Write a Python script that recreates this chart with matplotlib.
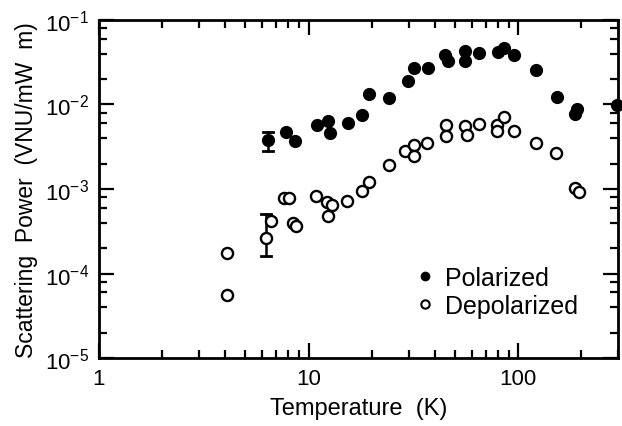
import matplotlib
matplotlib.use('Agg')
import matplotlib.pyplot as plt
import numpy as np
from matplotlib.ticker import LogLocator, NullFormatter, FixedLocator
from matplotlib.lines import Line2D

plt.rcParams['font.family'] = ['Liberation Sans', 'DejaVu Sans']
plt.rcParams['mathtext.fontset'] = 'custom'
plt.rcParams['mathtext.rm'] = 'Liberation Sans'
plt.rcParams['mathtext.it'] = 'Liberation Sans'
plt.rcParams['mathtext.default'] = 'rm'

# polarized scattering power (filled circles)
pol_T = [6.4, 7.8, 8.6, 11.0, 12.4, 12.6, 15.4, 18.0, 19.4, 24.1, 29.8, 31.8,
         37.1, 44.7, 46.2, 55.6, 55.6, 64.9, 80.0, 85.4, 95.3, 121, 153, 186, 190, 295]
pol_P = [0.0038, 0.0047, 0.0037, 0.0057, 0.0064, 0.0046, 0.0060, 0.0075, 0.0133,
         0.0119, 0.0190, 0.0270, 0.0270, 0.0385, 0.0327, 0.0430, 0.0327, 0.0407,
         0.0418, 0.0467, 0.0385, 0.0256, 0.0123, 0.0077, 0.0089, 0.0099]

# depolarized scattering power (open circles)
dep_T = [4.1, 4.1, 6.26, 6.6, 7.6, 8.1, 8.4, 8.7, 10.8, 12.2, 12.9, 12.4, 15.2,
         18.0, 19.4, 24.1, 28.8, 31.8, 31.8, 36.6, 45.2, 45.2, 55.6, 56.9, 64.9,
         79.1, 79.1, 85.4, 95.3, 121, 151, 186, 195]
dep_P = [1.75e-4, 5.6e-5, 2.63e-4, 4.18e-4, 7.8e-4, 7.8e-4, 3.96e-4, 3.65e-4,
         8.26e-4, 7.02e-4, 6.47e-4, 4.79e-4, 7.21e-4, 9.46e-4, 1.21e-3, 1.92e-3,
         2.82e-3, 3.32e-3, 2.46e-3, 3.50e-3, 5.72e-3, 4.24e-3, 5.57e-3, 4.36e-3,
         5.88e-3, 5.72e-3, 4.86e-3, 7.11e-3, 4.86e-3, 3.50e-3, 2.67e-3, 1.03e-3, 9.2e-4]

# representative error bars
err_T = [6.4, 6.26]
err_lo = [0.0028, 1.61e-4]
err_hi = [0.0047, 5.06e-4]

fig = plt.figure(figsize=(6.22, 4.27), dpi=100)
ax = fig.add_axes([0.159, 0.159, 0.835, 0.792])

for t, lo, hi in zip(err_T, err_lo, err_hi):
    ax.plot([t, t], [lo, hi], color='black', lw=1.8, zorder=1)
    ax.plot([t / 1.055, t * 1.055], [lo, lo], color='black', lw=2, zorder=1)
    ax.plot([t / 1.055, t * 1.055], [hi, hi], color='black', lw=2, zorder=1)

ax.plot(pol_T, pol_P, 'o', color='black', ms=9.5, mew=0, clip_on=False, zorder=3)
ax.plot(dep_T, dep_P, 'o', mfc='white', mec='black', ms=8, mew=1.7, zorder=3)

ax.set_xscale('log')
ax.set_yscale('log')
ax.set_xlim(1, 300)
ax.set_ylim(1e-5, 1e-1)

ax.xaxis.set_major_locator(FixedLocator([1, 10, 100]))
ax.xaxis.set_minor_locator(LogLocator(base=10, subs=np.arange(2, 10)))
ax.xaxis.set_minor_formatter(NullFormatter())
ax.set_xticklabels(['1', '10', '100'])
ax.yaxis.set_major_locator(FixedLocator([1e-5, 1e-4, 1e-3, 1e-2, 1e-1]))
ax.yaxis.set_minor_locator(LogLocator(base=10, subs=[2, 4, 6, 8]))
ax.yaxis.set_minor_formatter(NullFormatter())
ax.set_yticklabels([r'$10^{-5}$', r'$10^{-4}$', r'$10^{-3}$', r'$10^{-2}$', r'$10^{-1}$'])

ax.tick_params(which='both', direction='in', top=True, right=True, width=1.6, labelsize=16)
ax.tick_params(which='major', length=11, pad=7)
ax.tick_params(which='minor', length=6)
for s in ax.spines.values():
    s.set_linewidth(2)

ax.set_xlabel('Temperature  (K)', fontsize=17, labelpad=6)
ax.set_ylabel('Scattering  Power  (VNU/mW  m)', fontsize=16.5, labelpad=5)

handles = [Line2D([], [], ls='none', marker='o', color='black', ms=7, mew=0),
           Line2D([], [], ls='none', marker='o', mfc='white', mec='black', ms=6, mew=1.5)]
ax.legend(handles, ['Polarized', 'Depolarized'], loc='upper left', bbox_to_anchor=(0.59, 0.31),
          frameon=False, fontsize=18, handlelength=0.6, handletextpad=0.5,
          labelspacing=0.15, borderpad=0)

fig.savefig('out.png', dpi=100)
